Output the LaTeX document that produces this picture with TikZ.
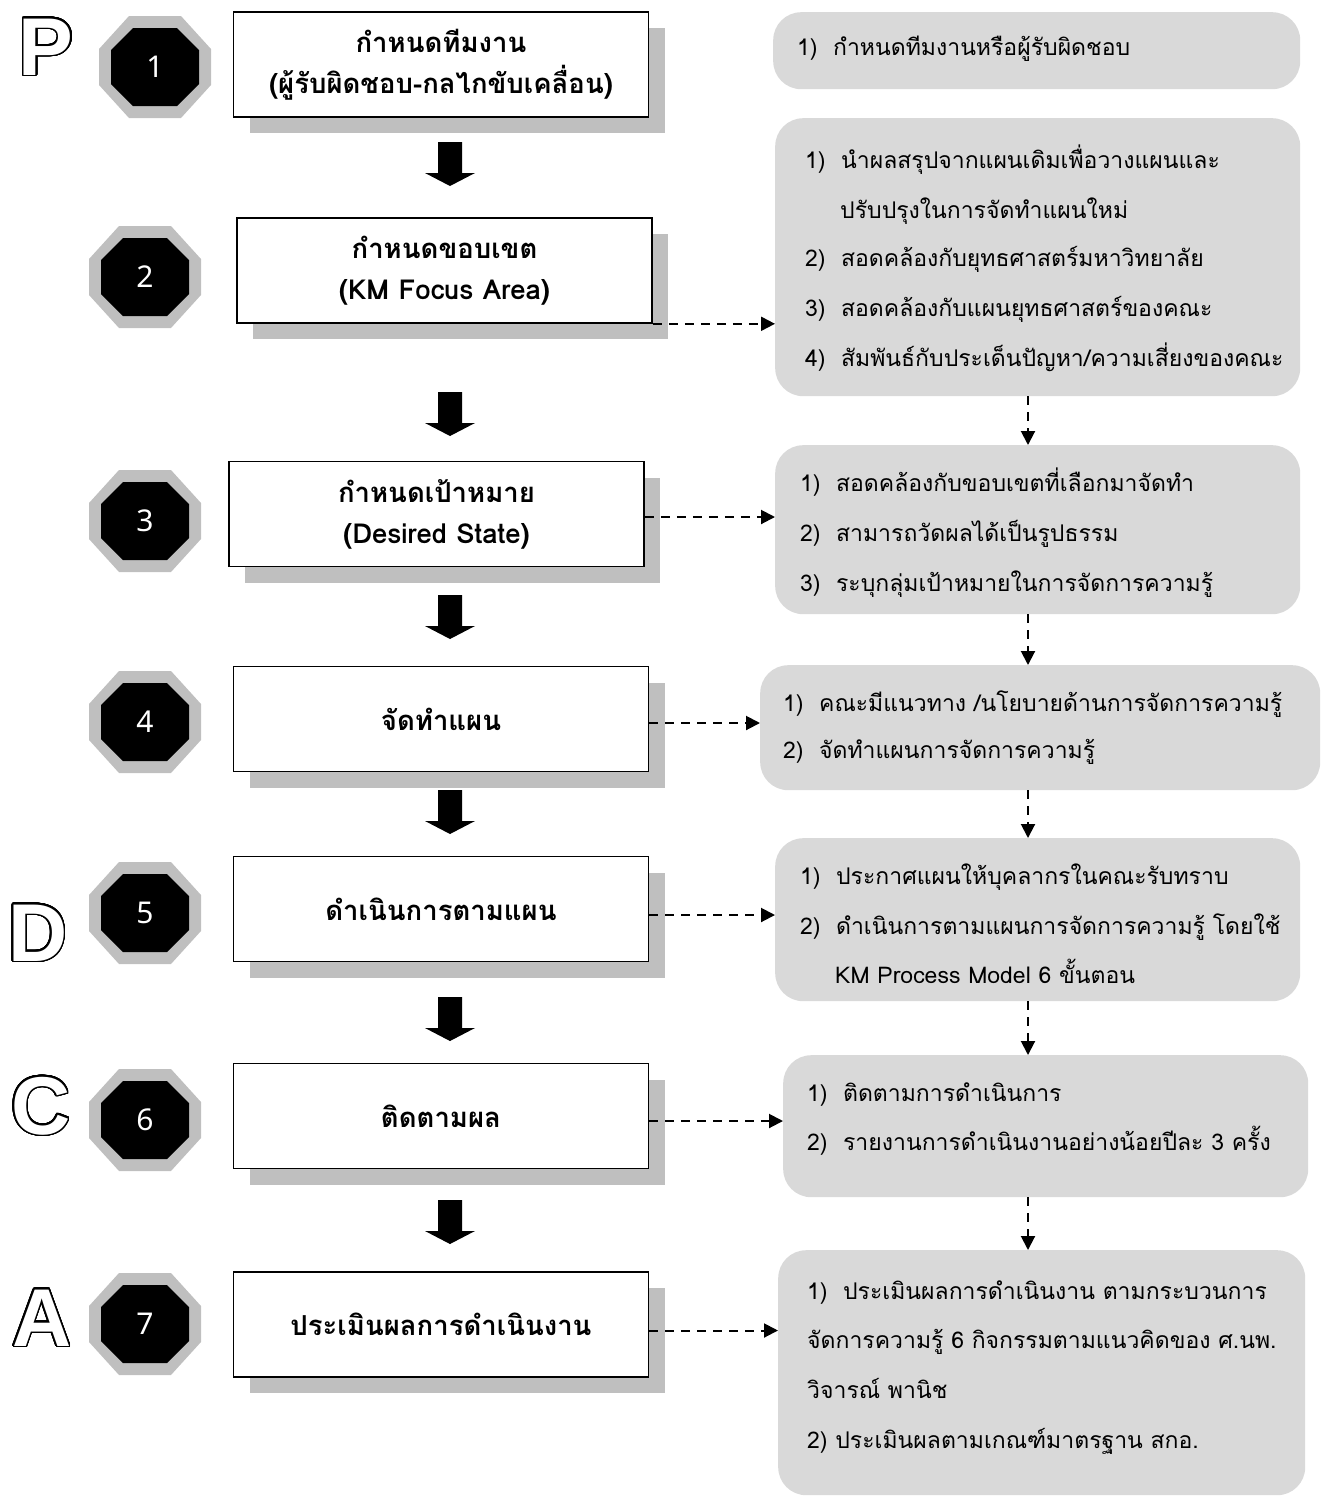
\documentclass[tikz,border=0pt]{standalone}
\usepackage{fontspec}
\usepackage{contour}
\newfontfamily\thai[Script=Thai]{Loma}
\newfontfamily\bigletter{Liberation Sans}[UprightFont=* Bold]
\newfontfamily\numfont{Noto Sans}
\usetikzlibrary{arrows.meta,shadows}
\definecolor{shadowgray}{HTML}{BFBFBF}
\definecolor{boxgray}{HTML}{D9D9D9}
\contourlength{1.5pt}
\contournumber{48}
\begin{document}
\begin{tikzpicture}[x=1pt,y=-1pt,
  leftbox/.style={draw, line width=1.6pt, fill=white, inner sep=0pt,
    minimum width=415pt, minimum height=105pt, align=center,
    font=\thai\bfseries\fontsize{27.5}{41}\selectfont,
    drop shadow={shadow xshift=16pt, shadow yshift=-16pt, opacity=1, fill=shadowgray}},
  rbox/.style={fill=boxgray, rounded corners=28pt, inner sep=0pt, anchor=north west},
  rtext/.style={anchor=base west, inner sep=0pt, font=\thai\fontsize{23}{26}\selectfont},
  numtext/.style={text=white, inner sep=0pt, font=\numfont\fontsize{30}{30}\selectfont},
  letter/.style={text=white, inner sep=0pt, anchor=base, font=\bigletter\fontsize{82}{82}\selectfont},
  dasharrow/.style={line width=2pt, dash pattern=on 9pt off 7pt, -{Triangle[length=14pt,width=14pt]}},
]
\useasboundingbox (0,0) rectangle (1322,1497);

% left boxes
\node[leftbox] (b1) at (441,64.5) {กำหนดทีมงาน\\(ผู้รับผิดชอบ-กลไกขับเคลื่อน)};
\node[leftbox] (b2) at (444.5,270.5) {กำหนดขอบเขต\\(KM Focus Area)};
\node[leftbox] (b3) at (436.5,514) {กำหนดเป้าหมาย\\(Desired State)};
\node[leftbox] (b4) at (441,719) {จัดทำแผน};
\node[leftbox] (b5) at (441,909) {ดำเนินการตามแผน};
\node[leftbox] (b6) at (441,1116) {ติดตามผล};
\node[leftbox] (b7) at (441,1324.5) {ประเมินผลการดำเนินงาน};

% block arrows
\foreach \t in {142,392,595,790,997,1200}{
  \fill[black] (438,\t) -- (462,\t) -- (462,\t+31) -- (475,\t+31) -- (450,\t+44) -- (425,\t+31) -- (438,\t+31) -- cycle;
}

% octagons
\foreach \n/\x/\y in {1/155/67, 2/145/277, 3/145/521, 4/145/722, 5/145/913, 6/145/1120, 7/145/1324}{
  \begin{scope}[shift={(\x,\y)}]
    \fill[shadowgray] (-26,-51) -- (26,-51) -- (56,-18) -- (56,18) -- (26,51) -- (-26,51) -- (-56,18) -- (-56,-18) -- cycle;
    \fill[black] (-22,-39) -- (22,-39) -- (44,-17) -- (44,17) -- (22,39) -- (-22,39) -- (-44,17) -- (-44,-17) -- cycle;
  \end{scope}
  \node[numtext] (o\n) at (\x,\y) {\n};
}

% PDCA letters
\node[letter] (lp) at (46,75) {\contour{black}{P}};
\node[letter] (ld) at (38,961) {\contour{black}{D}};
\node[letter] (lc) at (41,1134) {\contour{black}{C}};
\node[letter] (la) at (42,1346) {\contour{black}{A}};

% right boxes
\node[rbox, minimum width=527pt, minimum height=77pt] (r1) at (773,12) {};
\node[rbox, minimum width=525pt, minimum height=278pt] (r2) at (775,118) {};
\node[rbox, minimum width=525pt, minimum height=169pt] (r3) at (775,445) {};
\node[rbox, minimum width=560pt, minimum height=125pt] (r4) at (760,665) {};
\node[rbox, minimum width=525pt, minimum height=163pt] (r5) at (775,838) {};
\node[rbox, minimum width=525pt, minimum height=142pt] (r6) at (783,1055) {};
\node[rbox, minimum width=527pt, minimum height=245pt] (r7) at (778,1250) {};

% right texts
\node[rtext] (t1a) at (797,55) {1)\ \ กำหนดทีมงานหรือผู้รับผิดชอบ};
\node[rtext] (t2a) at (805,168) {1)\ \ นำผลสรุปจากแผนเดิมเพื่อวางแผนและ};
\node[rtext] (t2b) at (840,218) {ปรับปรุงในการจัดทำแผนใหม่};
\node[rtext] (t2c) at (805,266) {2)\ \ สอดคล้องกับยุทธศาสตร์มหาวิทยาลัย};
\node[rtext] (t2d) at (805,316) {3)\ \ สอดคล้องกับแผนยุทธศาสตร์ของคณะ};
\node[rtext] (t2e) at (805,366) {4)\ \ สัมพันธ์กับประเด็นปัญหา/ความเสี่ยงของคณะ};
\node[rtext] (t3a) at (800,491) {1)\ \ สอดคล้องกับขอบเขตที่เลือกมาจัดทำ};
\node[rtext] (t3b) at (800,541) {2)\ \ สามารถวัดผลได้เป็นรูปธรรม};
\node[rtext] (t3c) at (800,591) {3)\ \ ระบุกลุ่มเป้าหมายในการจัดการความรู้};
\node[rtext] (t4a) at (783,711) {1)\ \ คณะมีแนวทาง /นโยบายด้านการจัดการความรู้};
\node[rtext] (t4b) at (783,758) {2)\ \ จัดทำแผนการจัดการความรู้};
\node[rtext] (t5a) at (800,884) {1)\ \ ประกาศแผนให้บุคลากรในคณะรับทราบ};
\node[rtext] (t5b) at (800,934) {2)\ \ ดำเนินการตามแผนการจัดการความรู้ โดยใช้};
\node[rtext] (t5c) at (835,983) {KM Process Model 6 ขั้นตอน};
\node[rtext] (t6a) at (807,1101) {1)\ \ ติดตามการดำเนินการ};
\node[rtext] (t6b) at (807,1150) {2)\ \ รายงานการดำเนินงานอย่างน้อยปีละ 3 ครั้ง};
\node[rtext] (t7a) at (807,1299) {1)\ \ ประเมินผลการดำเนินงาน ตามกระบวนการ};
\node[rtext] (t7b) at (807,1348) {จัดการความรู้ 6 กิจกรรมตามแนวคิดของ ศ.นพ.};
\node[rtext] (t7c) at (807,1398) {วิจารณ์ พานิช};
\node[rtext] (t7d) at (807,1448) {2) ประเมินผลตามเกณฑ์มาตรฐาน สกอ.};

% dashed arrows
\coordinate (v) at (1028,0);
\coordinate (s3) at ([yshift=-3pt]b3.east);
\coordinate (s4) at ([yshift=-4pt]b4.east);
\coordinate (s5) at ([yshift=-6pt]b5.east);
\coordinate (s6) at ([yshift=-5pt]b6.east);
\coordinate (s7) at ([yshift=-6pt]b7.east);
\draw[dasharrow] (b2.south east) -- (r2.west |- b2.south east);
\draw[dasharrow] (s3) -- (r3.west |- s3);
\draw[dasharrow] (s4) -- (r4.west |- s4);
\draw[dasharrow] (s5) -- (r5.west |- s5);
\draw[dasharrow] (s6) -- (r6.west |- s6);
\draw[dasharrow] (s7) -- (r7.west |- s7);
\draw[dasharrow] (r2.south -| v) -- (r3.north -| v);
\draw[dasharrow] (r3.south -| v) -- (r4.north -| v);
\draw[dasharrow] (r4.south -| v) -- (r5.north -| v);
\draw[dasharrow] (r5.south -| v) -- (r6.north -| v);
\draw[dasharrow] (r6.south -| v) -- (r7.north -| v);
\end{tikzpicture}
\end{document}
